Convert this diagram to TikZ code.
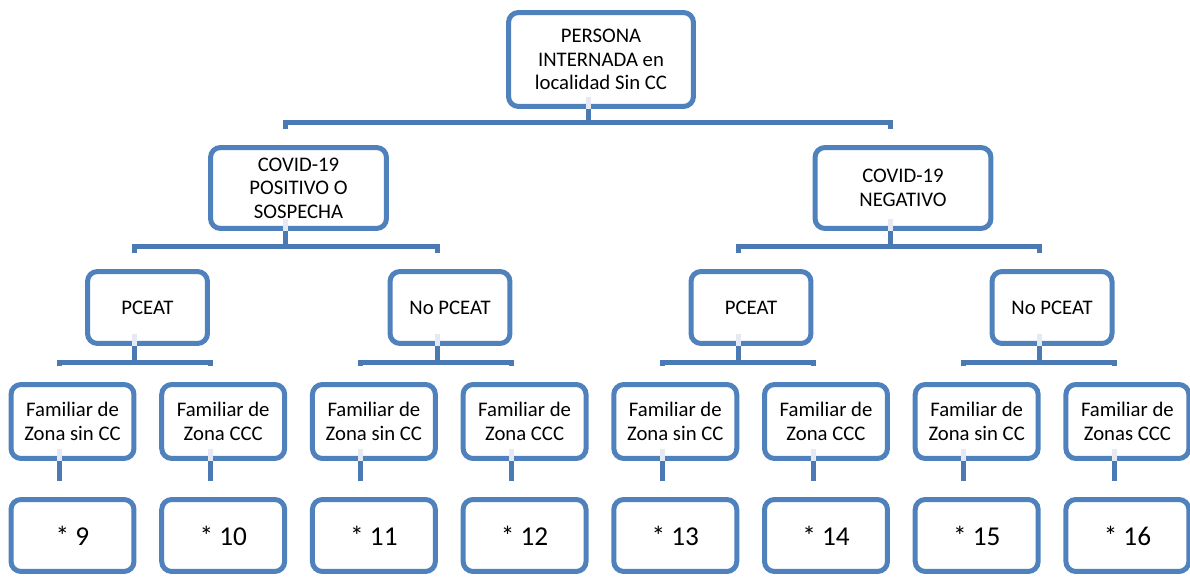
\documentclass[tikz,border=0pt]{standalone}
\usepackage{fontspec}
\setmainfont{Carlito}
\usepackage{xcolor}
\usepackage{tikz}
\usetikzlibrary{calc}

\definecolor{boxblue}{HTML}{4F81BD}
\definecolor{linkblue}{HTML}{4A79B3}
\definecolor{stempale}{HTML}{E4E9F4}

\begin{document}
\begin{tikzpicture}[
  x=0.02cm, y=-0.02cm,
  every node/.style={font=\fontsize{11.8}{13.4}\selectfont},
  card/.style={rectangle, rounded corners=0.2cm, draw=boxblue, fill=white, line width=0.1cm, align=center, inner sep=0pt},
  tier0/.style={card, minimum width=3.7cm, minimum height=1.88cm},
  tier1/.style={card, minimum width=3.52cm, minimum height=1.62cm},
  tier2/.style={card, minimum width=2.4cm, minimum height=1.44cm},
  tier3/.style={card, minimum width=2.46cm, minimum height=1.48cm},
  tier4/.style={card, minimum width=2.46cm, minimum height=1.44cm, font=\fontsize{15.5}{18}\selectfont},
  link/.style={draw=linkblue, line width=0.1cm, line join=miter},
  stem/.style={draw=stempale, line width=0.1cm},
]
\useasboundingbox (0,0) rectangle (1190,577);

% L0 - Persona internada
\node[tier0] (persona) at (601,59.5) {PERSONA\\INTERNADA en\\localidad Sin CC};

% L1 - Resultado COVID-19
\node[tier1] (pos) at (298.5,188) {COVID-19\\POSITIVO O\\SOSPECHA};
\node[tier1] (neg) at (903,188) {COVID-19\\NEGATIVO};

% L2 - PCEAT
\node[tier2] (pospc) at (147.5,307.5) {PCEAT};
\node[tier2] (posno) at (450,307.5) {No PCEAT};
\node[tier2] (negpc) at (751,307.5) {PCEAT};
\node[tier2] (negno) at (1052,307.5) {No PCEAT};

% L3 - Familiar / L4 - casos
\foreach \i/\t in {1/{Familiar de\\Zona sin CC}, 2/{Familiar de\\Zona CCC},
                   3/{Familiar de\\Zona sin CC}, 4/{Familiar de\\Zona CCC},
                   5/{Familiar de\\Zona sin CC}, 6/{Familiar de\\Zona CCC},
                   7/{Familiar de\\Zona sin CC}, 8/{Familiar de\\Zonas CCC}}{
  \pgfmathtruncatemacro{\n}{\i+8}
  \node[tier3] (fam\i) at ({72.5+150.7*(\i-1)},421.5) {\t};
  \node[tier4] (res\i) at ({72.5+150.7*(\i-1)},535.5) {* \n};
}

% Connectors
\foreach \p/\a/\b/\d in {persona/pos/neg/13.5, pos/pospc/posno/16, neg/negpc/negno/16,
                         pospc/fam1/fam2/16.5, posno/fam3/fam4/16.5,
                         negpc/fam5/fam6/16.5, negno/fam7/fam8/16.5}{
  \draw[stem] ($(\p.south)+(-13,-12)$) -- ($(\p.south)+(-13,0)$);
  \draw[link] ($(\a.north)+(-13,-16)$) |- ($(\p.south)+(-13,\d)$) -| ($(\b.north)+(-13,-16)$);
  \draw[link] ($(\p.south)+(-13,0)$) -- ($(\p.south)+(-13,\d)$);
}
\foreach \i in {1,...,8}{
  \draw[stem] ($(fam\i.south)+(-13,-12)$) -- ($(fam\i.south)+(-13,0)$);
  \draw[link] ($(fam\i.south)+(-13,0)$) -- ($(res\i.north)+(-13,-16.5)$);
}

\end{tikzpicture}
\end{document}
